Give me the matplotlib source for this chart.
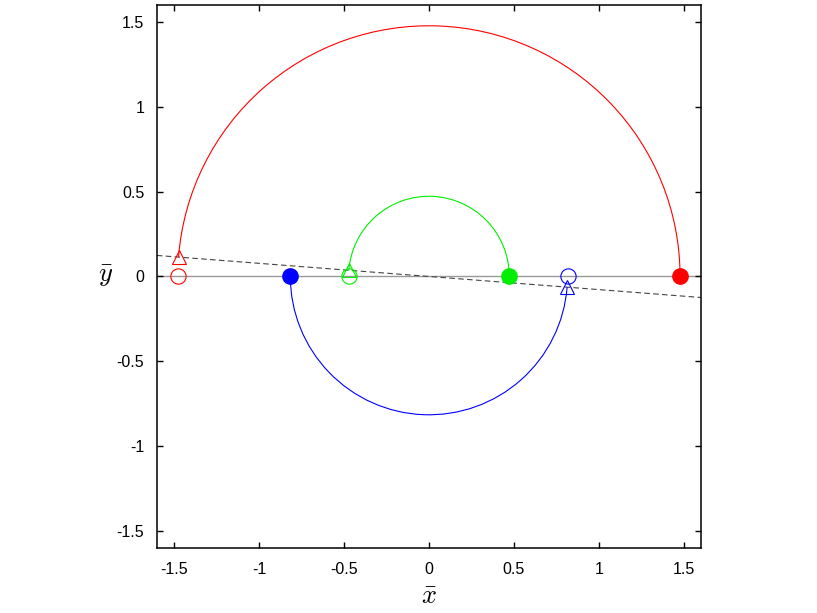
import numpy as np
import matplotlib
matplotlib.use("Agg")
import matplotlib.pyplot as plt
from matplotlib.patches import Arc

plt.rcParams['font.family'] = ['Liberation Sans', 'DejaVu Sans']
plt.rcParams['mathtext.fontset'] = 'cm'

# data
radii = [1.477, 0.4725, 0.815]
colors = ['#ff0000', '#00ee00', '#0000ff']
start_x = [1.477, 0.4725, -0.815]       # filled circles
open_x = [-1.477, -0.4725, 0.815]       # open circles
# arc angles (degrees), ending where the dashed line cuts the circle
line_angle = -4.43
arc_t1 = [0.0, 0.0, 180.0]
arc_t2 = [180.0 + line_angle, 180.0 + line_angle, 360.0 + line_angle]
ticks = [-1.5, -1, -0.5, 0, 0.5, 1, 1.5]
tick_labels = ['-1.5', '-1', '-0.5', '0', '0.5', '1', '1.5']

fig = plt.figure(figsize=(8.17, 6.13), dpi=100)
ax = fig.add_axes([0.192, 0.106, 0.666, 0.886])

ax.plot([-1.6, 1.6], [0, 0], color='#999999', lw=1.0, zorder=1)
slope = np.tan(np.radians(line_angle))
ax.plot([-1.6, 1.6], [-1.6 * slope, 1.6 * slope], color='#444444', lw=0.8,
        ls=(0, (5, 3)), zorder=1)

for r, c, t1, t2, sx, ox in zip(radii, colors, arc_t1, arc_t2, start_x, open_x):
    ax.add_patch(Arc((0, 0), 2 * r, 2 * r, theta1=t1, theta2=t2, color=c, lw=0.8))
    ax.plot(sx, 0, 'o', color=c, ms=11, zorder=3)
    ax.plot(ox, 0, 'o', mfc='none', mec=c, mew=0.8, ms=11, zorder=3)
    th = np.radians(t2)
    ax.plot(r * np.cos(th), r * np.sin(th), '^', mfc='none', mec=c, mew=0.8,
            ms=10, zorder=3)

ax.set_xlim(-1.6, 1.6)
ax.set_ylim(-1.6, 1.6)
ax.set_xticks(ticks)
ax.set_xticklabels(tick_labels)
ax.set_yticks(ticks)
ax.set_yticklabels(tick_labels)
ax.tick_params(direction='in', top=True, right=True, length=4.5, width=1.0,
               labelsize=11.5)
ax.tick_params(axis='x', pad=10)
ax.tick_params(axis='y', pad=9)
for s in ax.spines.values():
    s.set_linewidth(1.1)

ax.set_xlabel(r'$\bar{x}$', fontsize=19, labelpad=6)
ax.set_ylabel(r'$\bar{y}$', fontsize=19, rotation=0, labelpad=8, va='center')

fig.savefig('out.png', dpi=100)
